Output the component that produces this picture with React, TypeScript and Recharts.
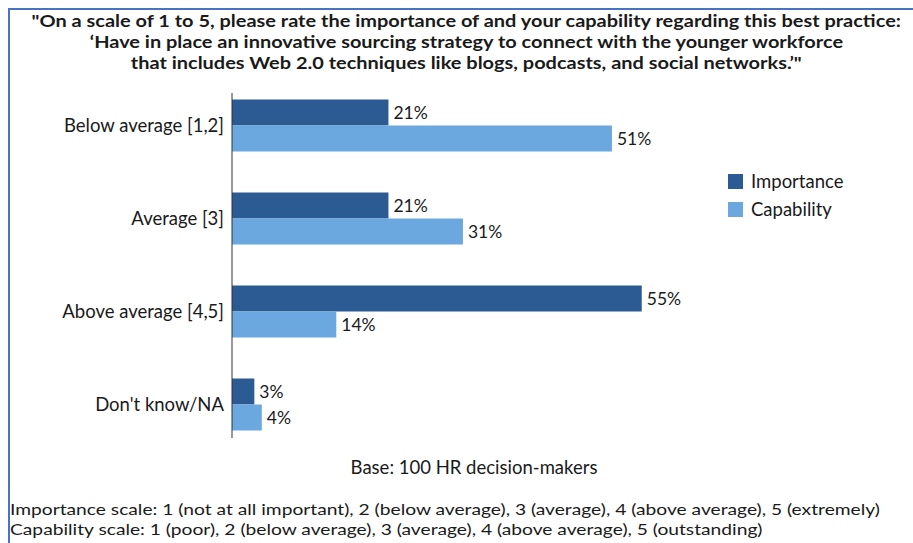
import React from 'react';
import { BarChart, Bar, XAxis, YAxis, LabelList } from 'recharts';

const categories = ['Below average [1,2]', 'Average [3]', 'Above average [4,5]', "Don't know/NA"];
const importance = [21, 21, 55, 3];
const capability = [51, 31, 14, 4];

const titleLines = [
  '"On a scale of 1 to 5, please rate the importance of and your capability regarding this best practice:',
  '\u2018Have in place an innovative sourcing strategy to connect with the younger workforce',
  'that includes Web 2.0 techniques like blogs, podcasts, and social networks.\u2019"',
];
const baseNote = 'Base: 100 HR decision-makers';
const footnotes = [
  'Importance scale: 1 (not at all important), 2 (below average), 3 (average), 4 (above average), 5 (extremely)',
  'Capability scale: 1 (poor), 2 (below average), 3 (average), 4 (above average), 5 (outstanding)',
];

const data = categories.map((name, i) => ({ name, importance: importance[i], capability: capability[i] }));

const DARK = '#2c5a93';
const LIGHT = '#6ba8e0';
const FONT = 'Lato, "Open Sans", sans-serif';

export default function App() {
  return (
    <div style={{ position: 'fixed', left: 0, top: 0, width: 913, height: 543, background: '#fff', fontFamily: FONT, color: '#1a1a1a', overflow: 'hidden' }}>
      <div style={{ position: 'absolute', left: 8, top: 8, right: 0, height: 2, background: '#4a72c4' }} />
      <div style={{ position: 'absolute', left: 8, top: 8, bottom: 0, width: 2, background: '#4a72c4' }} />
      {titleLines.map((t, i) => (
        <div key={i} style={{ position: 'absolute', left: 0, width: 932, top: 11 + i * 21, textAlign: 'center' }}>
          <span style={{ display: 'inline-block', fontWeight: 700, fontSize: 17.5, lineHeight: '20px', whiteSpace: 'nowrap', transform: 'scaleX(1.14)', transformOrigin: 'center' }}>{t}</span>
        </div>
      ))}
      <div style={{ position: 'absolute', left: 0, top: 0 }}>
        <BarChart
          width={913}
          height={543}
          data={data}
          layout="vertical"
          margin={{ top: 78.5, bottom: 92.5, left: 0, right: 234 }}
          barGap={0}
        >
          <XAxis type="number" hide domain={[0, 60]} />
          <YAxis
            type="category"
            dataKey="name"
            width={232}
            tickLine={false}
            axisLine={{ stroke: '#333', strokeWidth: 1, strokeDasharray: '0 14.5 345 40' }}
            tick={{ fontSize: 18.5, fill: '#1a1a1a', fontFamily: FONT }}
          />
          <Bar dataKey="importance" fill={DARK} barSize={26} isAnimationActive={false}>
            <LabelList dataKey="importance" position="right" offset={5} formatter={(v: number) => `${v}%`} style={{ fontSize: 17.5, fill: '#1a1a1a', fontFamily: FONT }} />
          </Bar>
          <Bar dataKey="capability" fill={LIGHT} barSize={26} isAnimationActive={false}>
            <LabelList dataKey="capability" position="right" offset={5} formatter={(v: number) => `${v}%`} style={{ fontSize: 17.5, fill: '#1a1a1a', fontFamily: FONT }} />
          </Bar>
        </BarChart>
      </div>
      <div style={{ position: 'absolute', left: 728, top: 174, width: 15, height: 15, background: DARK }} />
      <div style={{ position: 'absolute', left: 751, top: 171, fontSize: 18.5, lineHeight: '20px' }}>Importance</div>
      <div style={{ position: 'absolute', left: 728, top: 202, width: 15, height: 15, background: LIGHT }} />
      <div style={{ position: 'absolute', left: 751, top: 199, fontSize: 18.5, lineHeight: '20px' }}>Capability</div>
      <div style={{ position: 'absolute', left: 0, width: 948, top: 457, textAlign: 'center', fontSize: 18.5, lineHeight: '20px', whiteSpace: 'nowrap' }}>{baseNote}</div>
      {footnotes.map((t, i) => (
        <div key={i} style={{ position: 'absolute', left: 10, top: 499 + i * 19.5 }}>
          <span style={{ display: 'inline-block', fontSize: 16, lineHeight: '18px', whiteSpace: 'nowrap', transform: 'scaleX(1.2)', transformOrigin: 'left center' }}>{t}</span>
        </div>
      ))}
    </div>
  );
}
